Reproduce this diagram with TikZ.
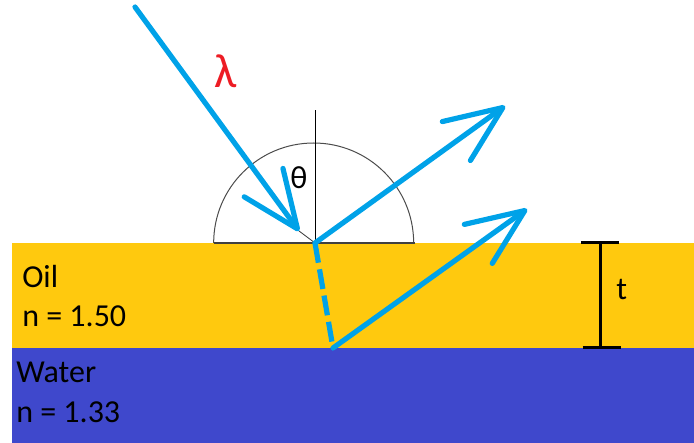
\documentclass[tikz,border=0pt]{standalone}
\usepackage{fontspec}
\setmainfont{Carlito}
\usetikzlibrary{arrows.meta}
\definecolor{oil}{HTML}{FFC90E}
\definecolor{water}{HTML}{3F48CC}
\definecolor{beamblue}{HTML}{00A2E8}
\definecolor{lamred}{HTML}{ED1C24}

\begin{document}
\begin{tikzpicture}[x=0.75pt,y=0.75pt,
  beam/.style={draw=beamblue,line width=3.9pt,line cap=round},
  beamarrow/.style={beam,-{Straight Barb[length=43pt,width=36pt,round]}},
  lbl/.style={font=\fontsize{24}{28}\selectfont,anchor=base west,inner sep=0pt}]
  \useasboundingbox (0,0) rectangle (694,443);
  \fill[water] (12,0) rectangle (694,95);
  \fill[oil] (12,95) rectangle (694,200);
  \coordinate (P) at (315,200);
  \coordinate (Q) at (333,95);
  \coordinate (src) at (135,436);
  \coordinate (inTip) at (299,212);
  \coordinate (outA) at (505,337);
  \coordinate (outB) at (527,234);
  \coordinate (N) at (315,333);
  \coordinate (tTop) at (600,200);
  \coordinate (tBot) at (600,95);
  \draw[black!70,line width=0.75pt] ([xshift=-76pt]P) arc[start angle=180,end angle=0,radius=75pt];
  \draw[black!75,line width=1pt] ([xshift=-76pt]P) -- ([xshift=75pt]P);
  \draw[line width=0.75pt] (P) -- (N);
  \draw[black!80,line width=0.6pt] (inTip) -- (P);
  \draw[beamarrow] (src) -- (inTip);
  \draw[beamarrow] (P) -- (outA);
  \draw[beam,line cap=butt,dash pattern=on 15pt off 5pt] (P) -- (Q);
  \draw[beamarrow] (Q) -- (outB);
  \draw[line width=2.25pt] (tTop) -- (tBot)
    ([xshift=-14pt]tTop) -- ([xshift=14pt]tTop)
    ([xshift=-13pt]tBot) -- ([xshift=16pt]tBot);
  \node[lbl] (thk) at (616,143) {t};
  \node[lbl] (ang) at (290,254) {θ};
  \node[text=lamred,font=\fontsize{36}{36}\selectfont] (lam) at (226,372) {λ};
  \node[lbl] (oilname) at (22,155) {Oil};
  \node[lbl] (oiln) at (22,116) {n = 1.50};
  \node[lbl] (watname) at (16,60) {Water};
  \node[lbl] (watn) at (16,20) {n = 1.33};
\end{tikzpicture}
\end{document}
